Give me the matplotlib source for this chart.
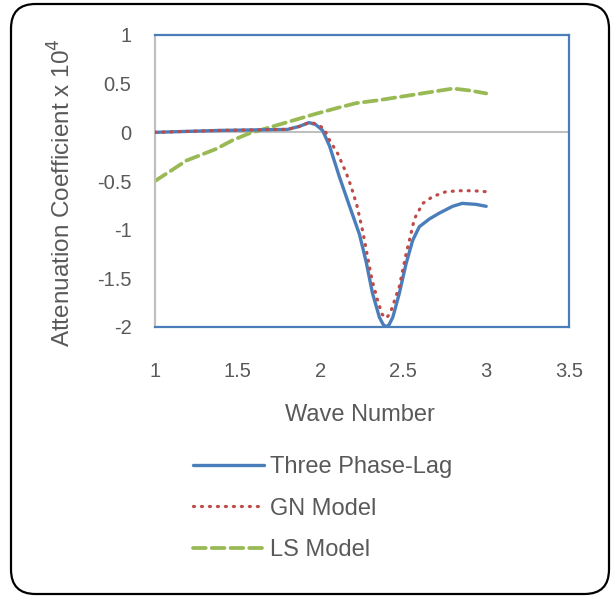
import matplotlib
matplotlib.use("Agg")
import matplotlib.pyplot as plt
from matplotlib.patches import FancyBboxPatch

# Data
wave_blue = [1.0, 1.2, 1.4, 1.6, 1.8, 1.87, 1.93, 1.97, 2.012, 2.054, 2.114, 2.175, 2.235, 2.275,
             2.313, 2.355, 2.378, 2.396, 2.414, 2.436, 2.476, 2.516, 2.556, 2.596, 2.657, 2.717,
             2.797, 2.855, 2.938, 3.0]
three_phase_lag = [0.0, 0.01, 0.02, 0.025, 0.03, 0.06, 0.10, 0.08, 0.02, -0.14, -0.46, -0.76, -1.05,
                   -1.33, -1.65, -1.90, -1.975, -2.0, -1.975, -1.90, -1.65, -1.35, -1.11, -0.97,
                   -0.89, -0.83, -0.76, -0.73, -0.74, -0.76]

wave_red = [1.0, 1.2, 1.4, 1.6, 1.8, 1.87, 1.93, 1.97, 2.02, 2.054, 2.104, 2.155, 2.185, 2.219, 2.255,
            2.277, 2.311, 2.345, 2.372, 2.396, 2.42, 2.446, 2.476, 2.516, 2.546, 2.566, 2.617, 2.677,
            2.757, 2.84, 2.92, 3.0]
gn_model = [0.0, 0.01, 0.02, 0.025, 0.03, 0.06, 0.10, 0.09, 0.04, -0.08, -0.22, -0.42, -0.56, -0.75,
            -1.02, -1.22, -1.52, -1.73, -1.87, -1.91, -1.86, -1.73, -1.58, -1.25, -1.04, -0.89,
            -0.73, -0.66, -0.61, -0.60, -0.60, -0.61]

wave_green = [1.0, 1.1, 1.19, 1.28, 1.37, 1.47, 1.57, 1.67, 1.77, 1.87, 1.97, 2.1, 2.215, 2.35, 2.5,
              2.65, 2.8, 2.9, 3.0]
ls_model = [-0.5, -0.39, -0.29, -0.23, -0.17, -0.08, -0.01, 0.04, 0.09, 0.14, 0.19, 0.25, 0.30, 0.33,
            0.37, 0.41, 0.45, 0.43, 0.40]

x_ticks = [1, 1.5, 2, 2.5, 3, 3.5]
y_ticks = [-2, -1.5, -1, -0.5, 0, 0.5, 1]

W, H = 613, 598
plt.rcParams['font.family'] = ['Liberation Sans', 'DejaVu Sans']
fig = plt.figure(figsize=(W / 100, H / 100), dpi=100)

# rounded border
border = FancyBboxPatch((11 / W, 4 / H), 598 / W, 590 / H,
                        boxstyle="round,pad=0,rounding_size=0.04",
                        transform=fig.transFigure, fill=False, edgecolor='black', linewidth=1.6,
                        mutation_aspect=W / H)
fig.patches.append(border)

ax = fig.add_axes([155 / W, 1 - 327 / H, (569 - 155) / W, (327 - 35) / H])

blue = '#4A7EBB'
red = '#BE4B48'
green = '#98B954'
grey_txt = '#595959'

ax.axhline(0, color='#BFBFBF', linewidth=1.5, zorder=1)
ax.plot(wave_blue, three_phase_lag, color=blue, linewidth=2.4, label='Three Phase-Lag', zorder=3,
        solid_capstyle='round', solid_joinstyle='round')
ax.plot(wave_red, gn_model, color=red, linewidth=2.3, linestyle=(0, (0.3, 2.2)),
        dash_capstyle='round', label='GN Model', zorder=4)
ax.plot(wave_green, ls_model, color=green, linewidth=2.7, linestyle=(0, (3.4, 1.6)),
        dash_capstyle='round', label='LS Model', zorder=2)

ax.set_xlim(1, 3.5)
ax.set_ylim(-2, 1)
ax.set_xticks(x_ticks)
ax.set_xticklabels([f'{t:g}' for t in x_ticks])
ax.set_yticks(y_ticks)
ax.set_yticklabels([f'{t:g}' for t in y_ticks])
ax.tick_params(axis='both', length=0, labelsize=14.5, colors=grey_txt)
ax.tick_params(axis='y', pad=17)
ax.tick_params(axis='x', pad=25)

for s in ['top', 'bottom', 'right']:
    ax.spines[s].set_color(blue)
    ax.spines[s].set_linewidth(1.6)
ax.spines['left'].set_color('#BFBFBF')
ax.spines['left'].set_linewidth(1.6)

ax.set_xlabel('Wave Number', fontsize=17, color=grey_txt)
ax.xaxis.set_label_coords((360 - 155) / 414, (327 - 404) / 292)
ax.set_ylabel('Attenuation Coefficient x 10$^4$', fontsize=17.5, color=grey_txt)
ax.yaxis.set_label_coords((76 - 155) / 414, (327 - 193) / 292)

leg = fig.legend(loc='upper left', bbox_to_anchor=(193 / W, 1 - 456 / H), frameon=False,
                 fontsize=17, handlelength=3.0, handletextpad=0.25, labelspacing=0.83,
                 labelcolor=grey_txt, borderpad=0, borderaxespad=0)

fig.savefig('out.png', dpi=100)
